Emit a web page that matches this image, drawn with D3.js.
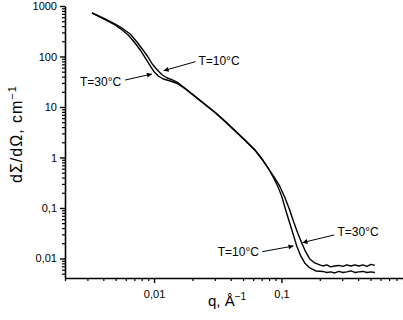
<!DOCTYPE html>
<html>
<head>
<meta charset="utf-8">
<script src="https://cdnjs.cloudflare.com/ajax/libs/d3/7.8.5/d3.min.js"></script>
<style>
    body { margin: 0; background: #fff; }
    svg { display: block; }
</style>
</head>
<body>
<svg id="sans-graph"></svg>
<script>

// DATA (q in 1/A, cross section in 1/cm)
let qT30 = [0.00326, 0.00413, 0.00495, 0.00562, 0.00627, 0.00699, 0.00779, 0.00853, 0.00934, 0.01004,
    0.0108, 0.01183, 0.01343, 0.01524, 0.01762, 0.02113, 0.02532, 0.03034, 0.03637, 0.0436,
    0.05226, 0.06264, 0.07115, 0.0793, 0.0885, 0.0968, 0.106, 0.1161, 0.1248, 0.1342,
    0.1443, 0.1552, 0.1668, 0.1826, 0.2, 0.2112, 0.227, 0.2442, 0.2625, 0.2822,
    0.3034, 0.3263, 0.3509, 0.3773, 0.4056, 0.4361, 0.4689, 0.5043, 0.5421]
let iT30 = [727, 540, 421, 335, 267, 194, 134.5, 93.4, 64.9, 49.3,
    41.1, 35.8, 32.7, 29.2, 22.7, 15.8, 10.95, 7.61, 5.05, 3.27,
    2.12, 1.345, 0.892, 0.592, 0.3926, 0.2727, 0.1651, 0.0913, 0.0528, 0.03198,
    0.0203, 0.01345, 0.00977, 0.00815, 0.00744, 0.0071, 0.00744, 0.00679, 0.0071, 0.00727,
    0.00695, 0.00744, 0.0071, 0.00744, 0.0071, 0.00744, 0.00695, 0.00761, 0.00727]

let qT10 = [0.00326, 0.00413, 0.00495, 0.00573, 0.0065, 0.00724, 0.00808, 0.00885, 0.00968, 0.0106,
    0.01161, 0.01271, 0.01392, 0.01552, 0.01762, 0.02113, 0.02532, 0.03034, 0.03637, 0.0436,
    0.05226, 0.06264, 0.07115, 0.0793, 0.0869, 0.0934, 0.1004, 0.108, 0.1161, 0.1248,
    0.1318, 0.1417, 0.1524, 0.1668, 0.186, 0.2112, 0.227, 0.2442, 0.2625, 0.2822,
    0.3034, 0.3263, 0.3509, 0.3773, 0.4056, 0.4361, 0.4689, 0.5043, 0.5421]
let iT10 = [727, 553, 440, 351, 279, 203, 141, 102.3, 71.0, 54.0,
    43.0, 37.5, 34.3, 29.9, 23.2, 16.1, 11.2, 7.75, 5.15, 3.33,
    2.16, 1.37, 0.9, 0.592, 0.3926, 0.2727, 0.1728, 0.0913, 0.0505, 0.0279,
    0.01768, 0.0112, 0.00815, 0.00649, 0.00566, 0.00553, 0.00528, 0.00541, 0.00516, 0.00553,
    0.00528, 0.00541, 0.00566, 0.00528, 0.00541, 0.00553, 0.00528, 0.00541, 0.00528]

// TICKS
let xTicks = [0.01, 0.1]
let xTickLabels = ["0,01", "0,1"]
let yTicks = [0.01, 0.1, 1, 10, 100, 1000]
let yTickLabels = ["0,01", "0,1", "1", "10", "100", "1000"]

// ANNOTATIONS: label, text position (q, I), arrow tail (q, I), arrow tip (q, I)
let noteLabels = ["T=30°C", "T=10°C", "T=30°C", "T=10°C"]
let noteAnchors = ["end", "start", "start", "end"]
let noteText = [[0.00552, 31.3], [0.0223, 82.6], [0.2757, 0.03396], [0.0665, 0.01363]]
let noteTail = [[0.00594, 34.2], [0.0211, 78.9], [0.2593, 0.0292], [0.0708, 0.01363]]
let noteTip = [[0.00963, 45.0], [0.01189, 52.3], [0.1462, 0.02056], [0.1245, 0.01768]]

function draw_sans_graph() {

    let margins = {top: 6, bottom: 42, left: 65, right: 0}
    let svgWidth = 403 - margins.left - margins.right
    let svgHeight = 320 - margins.top - margins.bottom
    let font = "'Liberation Sans', Arial, sans-serif"

    let chartContainer = d3
        .select('#sans-graph')
        .attr('width', 403)
        .attr('height', 320)

    let chart = chartContainer
        .append('g')
        .attr('transform', `translate(${margins.left},${margins.top})`)

    // SCALES
    let x = d3.scaleLog()
        .domain([0.002, 0.9])
        .range([0, svgWidth])
    let y = d3.scaleLog()
        .domain([0.0041, 1000])
        .range([svgHeight, 0])

    // MINOR TICKS
    let xMinor = []
    for (let d = 0.001; d < 1; d *= 10) {
        for (let k = 2; k <= 9; k++) {
            if (k * d >= 0.002 && k * d <= 0.9) xMinor.push(k * d)
        }
    }
    let yMinor = []
    for (let d = 0.001; d < 1000; d *= 10) {
        for (let k = 2; k <= 9; k++) {
            if (k * d >= 0.0041 && k * d <= 1000) yMinor.push(k * d)
        }
    }

    // X-AXIS
    chart
        .append('g')
        .attr('transform', `translate(0, ${svgHeight})`)
        .call(d3.axisBottom(x).tickValues(xMinor).tickSize(3).tickSizeOuter(0).tickFormat(''))
        .call(g => g.select('.domain').remove())
        .selectAll('line')
        .attr('stroke-width', 1.2)

    chart
        .append('g')
        .attr('transform', `translate(0, ${svgHeight})`)
        .call(d3.axisBottom(x).tickValues(xTicks).tickSize(5).tickSizeOuter(0).tickPadding(7)
            .tickFormat((d, i) => xTickLabels[i]))
        .attr('font-size', 11)
        .attr('font-family', font)
        .call(g => g.select('.domain').attr('stroke-width', 1.6))
        .call(g => g.selectAll('line').attr('stroke-width', 1.4))

    // Y-AXIS
    chart
        .append('g')
        .call(d3.axisLeft(y).tickValues(yMinor).tickSize(3).tickSizeOuter(0).tickFormat(''))
        .call(g => g.select('.domain').remove())
        .selectAll('line')
        .attr('stroke-width', 1.2)

    chart
        .append('g')
        .call(d3.axisLeft(y).tickValues(yTicks).tickSize(5).tickSizeOuter(0).tickPadding(3)
            .tickFormat((d, i) => yTickLabels[i]))
        .attr('font-size', 11)
        .attr('font-family', font)
        .call(g => g.select('.domain').attr('stroke-width', 1.6))
        .call(g => g.selectAll('line').attr('stroke-width', 1.4))

    // X AXIS LABEL
    let xLabel = chartContainer
        .append('text')
        .attr('x', 227)
        .attr('y', 306)
        .attr('text-anchor', 'middle')
        .attr('font-family', font)
        .attr('font-size', 15)
        .attr('fill', '#000')
    xLabel.append('tspan').text('q, Å')
    xLabel.append('tspan').attr('dy', -6).attr('font-size', 10).text('−1')

    // Y AXIS LABEL
    let yLabel = chartContainer
        .append('text')
        .attr('transform', 'translate(22, 134) rotate(-90)')
        .attr('text-anchor', 'middle')
        .attr('font-family', font)
        .attr('font-size', 16)
        .attr('letter-spacing', 1)
        .attr('fill', '#000')
    yLabel.append('tspan').text('dΣ/dΩ, cm')
    yLabel.append('tspan').attr('dy', -6).attr('font-size', 11).text('−1')

    // CURVES
    let line = d3.line()
        .x(d => x(d[0]))
        .y(d => y(d[1]))

    let curves = [d3.zip(qT30, iT30), d3.zip(qT10, iT10)]

    chart
        .selectAll('.curve')
        .data(curves)
        .join('path')
            .classed('curve', true)
            .attr('d', line)
            .attr('fill', 'none')
            .attr('stroke', '#000')
            .attr('stroke-width', 1.4)
            .attr('stroke-linejoin', 'round')

    // ARROW HEAD
    chartContainer
        .append('defs')
        .append('marker')
            .attr('id', 'arrow')
            .attr('viewBox', '0 0 10 10')
            .attr('refX', 10)
            .attr('refY', 5)
            .attr('markerWidth', 7)
            .attr('markerHeight', 5)
            .attr('markerUnits', 'userSpaceOnUse')
            .attr('orient', 'auto')
        .append('path')
            .attr('d', 'M0,0L10,5L0,10z')
            .attr('fill', '#000')

    // ANNOTATIONS
    let notes = noteLabels.map((label, i) => ({label: label, anchor: noteAnchors[i],
        text: noteText[i], tail: noteTail[i], tip: noteTip[i]}))

    chart
        .selectAll('.note-arrow')
        .data(notes)
        .join('line')
            .classed('note-arrow', true)
            .attr('x1', d => x(d.tail[0]))
            .attr('y1', d => y(d.tail[1]))
            .attr('x2', d => x(d.tip[0]))
            .attr('y2', d => y(d.tip[1]))
            .attr('stroke', '#000')
            .attr('stroke-width', 1)
            .attr('marker-end', 'url(#arrow)')

    chart
        .selectAll('.note-text')
        .data(notes)
        .join('text')
            .classed('note-text', true)
            .attr('x', d => x(d.text[0]))
            .attr('y', d => y(d.text[1]))
            .attr('dy', '0.35em')
            .attr('text-anchor', d => d.anchor)
            .attr('font-family', font)
            .attr('font-size', 12)
            .attr('fill', '#000')
            .text(d => d.label)
}

draw_sans_graph()

</script>
</body>
</html>
